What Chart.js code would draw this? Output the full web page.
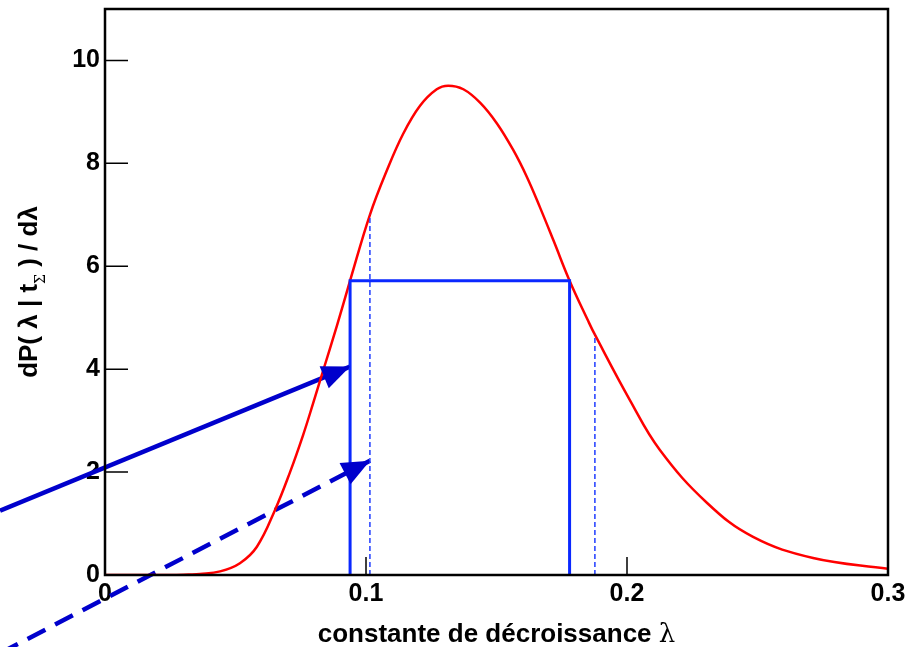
<!DOCTYPE html>
<html>
<head>
<meta charset="utf-8">
<script src="https://cdn.jsdelivr.net/npm/chart.js@4.4.0/dist/chart.umd.min.js"></script>
<style>
  html, body { margin: 0; padding: 0; background: #fff; }
  #wrap { width: 914px; height: 647px; }
</style>
</head>
<body>
<div id="wrap"><canvas id="courbe"></canvas></div>
<script>
// densite a posteriori dP(lambda | t) / dlambda
const lambdas = [0, 0.025, 0.032, 0.0364, 0.0441, 0.0517, 0.0582, 0.0651, 0.0709, 0.0759,
  0.0797, 0.0835, 0.0889, 0.0939, 0.1015, 0.1079, 0.1143, 0.1207, 0.1271, 0.1315,
  0.1373, 0.1437, 0.1501, 0.1564, 0.1616, 0.1667, 0.172, 0.178, 0.1851, 0.1877,
  0.2011, 0.2126, 0.2307, 0.2483, 0.2713, 0.3];
const densite = [0, 0, 0.01, 0.02, 0.07, 0.23, 0.55, 1.26, 2.0, 2.72,
  3.33, 3.96, 4.85, 5.72, 7.0, 7.85, 8.58, 9.12, 9.44, 9.51,
  9.44, 9.18, 8.78, 8.26, 7.74, 7.14, 6.48, 5.72, 4.94, 4.67,
  3.40, 2.43, 1.40, 0.74, 0.33, 0.12];

// intervalle (rectangle) et bornes en pointille
const intervalleX = [0.0939, 0.0939, 0.178, 0.178];
const intervalleY = [0, 5.72, 5.72, 0];
const bornes1X = [0.1015, 0.1015];
const bornes1Y = [0, 7.0];
const bornes2X = [0.1877, 0.1877];
const bornes2Y = [0, 4.67];

// fleches
const flecheX = [-0.0402, 0.0939];
const flecheY = [1.25, 4.05];
const flecheTiretX = [-0.0402, 0.1015];
const flecheTiretY = [-1.52, 2.22];

const xTicks = [0, 0.1, 0.2, 0.3];
const yTicks = [0, 2, 4, 6, 8, 10];

function points(xs, ys) {
  return xs.map((x, i) => ({ x: x, y: ys[i] }));
}

const cadre = {
  id: 'cadre',
  afterDatasetsDraw(chart) {
    const ctx = chart.ctx;
    const a = chart.chartArea;
    const sx = chart.scales.x;
    const sy = chart.scales.y;
    ctx.save();

    // pointes de fleche
    chart.data.datasets.forEach((ds, i) => {
      if (!ds.fleche) return;
      const pts = chart.getDatasetMeta(i).data;
      const p0 = pts[pts.length - 2];
      const p1 = pts[pts.length - 1];
      const ang = Math.atan2(p1.y - p0.y, p1.x - p0.x);
      const L = 28, W = 12;
      ctx.fillStyle = ds.borderColor;
      ctx.beginPath();
      ctx.moveTo(p1.x, p1.y);
      ctx.lineTo(p1.x - L * Math.cos(ang) + W * Math.sin(ang), p1.y - L * Math.sin(ang) - W * Math.cos(ang));
      ctx.lineTo(p1.x - L * Math.cos(ang) - W * Math.sin(ang), p1.y - L * Math.sin(ang) + W * Math.cos(ang));
      ctx.closePath();
      ctx.fill();
    });

    // cadre et graduations interieures
    ctx.strokeStyle = '#000';
    ctx.lineWidth = 1.5;
    ctx.beginPath();
    yTicks.forEach(v => {
      const y = sy.getPixelForValue(v);
      ctx.moveTo(a.left, y);
      ctx.lineTo(a.left + 23, y);
    });
    [0.1, 0.2].forEach(v => {
      const x = sx.getPixelForValue(v);
      ctx.moveTo(x, a.bottom);
      ctx.lineTo(x, a.bottom - 18);
    });
    ctx.stroke();
    ctx.lineWidth = 2.5;
    ctx.strokeRect(a.left, a.top, a.right - a.left, a.bottom - a.top);

    // titre axe x
    ctx.fillStyle = '#000';
    ctx.textBaseline = 'alphabetic';
    const fBold = 'bold 26px "Liberation Sans", Arial, sans-serif';
    const fSym = '26px "DejaVu Serif", serif';
    ctx.font = fBold;
    const txt = 'constante de d\u00e9croissance ';
    const w1 = ctx.measureText(txt).width;
    ctx.font = fSym;
    const w2 = ctx.measureText('\u03bb').width;
    let x0 = (a.left + a.right) / 2 - (w1 + w2) / 2;
    ctx.font = fBold;
    ctx.fillText(txt, x0, 642);
    ctx.font = fSym;
    ctx.fillText('\u03bb', x0 + w1, 642);

    // titre axe y, avec indice
    const morceaux = [
      { t: 'dP( \u03bb | t', f: fBold, dy: 0 },
      { t: '\u03a3', f: '14px "DejaVu Serif", serif', dy: 8 },
      { t: ' ) / d\u03bb', f: fBold, dy: 0 }
    ];
    let total = 0;
    morceaux.forEach(m => { ctx.font = m.f; m.w = ctx.measureText(m.t).width; total += m.w; });
    ctx.translate(37, (a.top + a.bottom) / 2);
    ctx.rotate(-Math.PI / 2);
    let cx = -total / 2;
    morceaux.forEach(m => {
      ctx.font = m.f;
      ctx.fillText(m.t, cx, m.dy);
      cx += m.w;
    });
    ctx.restore();
  }
};

new Chart(document.getElementById('courbe'), {
  type: 'line',
  data: {
    datasets: [
      {
        data: points(intervalleX, intervalleY),
        borderColor: '#0a28ff',
        borderWidth: 3,
        pointRadius: 0,
        tension: 0
      },
      {
        data: points(bornes1X, bornes1Y),
        borderColor: '#1f3cff',
        borderWidth: 1.5,
        borderDash: [5, 3],
        pointRadius: 0
      },
      {
        data: points(bornes2X, bornes2Y),
        borderColor: '#1f3cff',
        borderWidth: 1.5,
        borderDash: [5, 3],
        pointRadius: 0
      },
      {
        data: points(lambdas, densite),
        borderColor: '#ff0000',
        borderWidth: 2.5,
        pointRadius: 0,
        tension: 0.4
      },
      {
        data: points(flecheX, flecheY),
        borderColor: '#0000cc',
        borderWidth: 4.5,
        pointRadius: 0,
        clip: false,
        fleche: true
      },
      {
        data: points(flecheTiretX, flecheTiretY),
        borderColor: '#0000cc',
        borderWidth: 4.5,
        borderDash: [20, 11],
        pointRadius: 0,
        clip: false,
        fleche: true
      }
    ]
  },
  options: {
    responsive: true,
    maintainAspectRatio: false,
    animation: false,
    layout: { padding: { top: 9, right: 26, left: 0, bottom: 0 } },
    plugins: {
      legend: { display: false },
      tooltip: { enabled: false }
    },
    scales: {
      x: {
        type: 'linear',
        min: 0,
        max: 0.3,
        afterBuildTicks: s => { s.ticks = xTicks.map(v => ({ value: v })); },
        afterFit: s => { s.height = 72; s.paddingLeft = 0; s.paddingRight = 0; },
        grid: { display: false, drawTicks: false },
        border: { display: false },
        ticks: {
          color: '#000',
          padding: 4,
          maxRotation: 0,
          font: { family: '"Liberation Sans", Arial, sans-serif', size: 25, weight: 'bold' },
          callback: v => String(v)
        }
      },
      y: {
        min: 0,
        max: 11,
        afterBuildTicks: s => { s.ticks = yTicks.map(v => ({ value: v })); },
        afterFit: s => { s.width = 105; s.paddingTop = 0; s.paddingBottom = 0; },
        grid: { display: false, drawTicks: false },
        border: { display: false },
        ticks: {
          color: '#000',
          padding: 5,
          font: { family: '"Liberation Sans", Arial, sans-serif', size: 25, weight: 'bold' },
          callback: v => String(v)
        }
      }
    }
  },
  plugins: [cadre]
});
</script>
</body>
</html>
